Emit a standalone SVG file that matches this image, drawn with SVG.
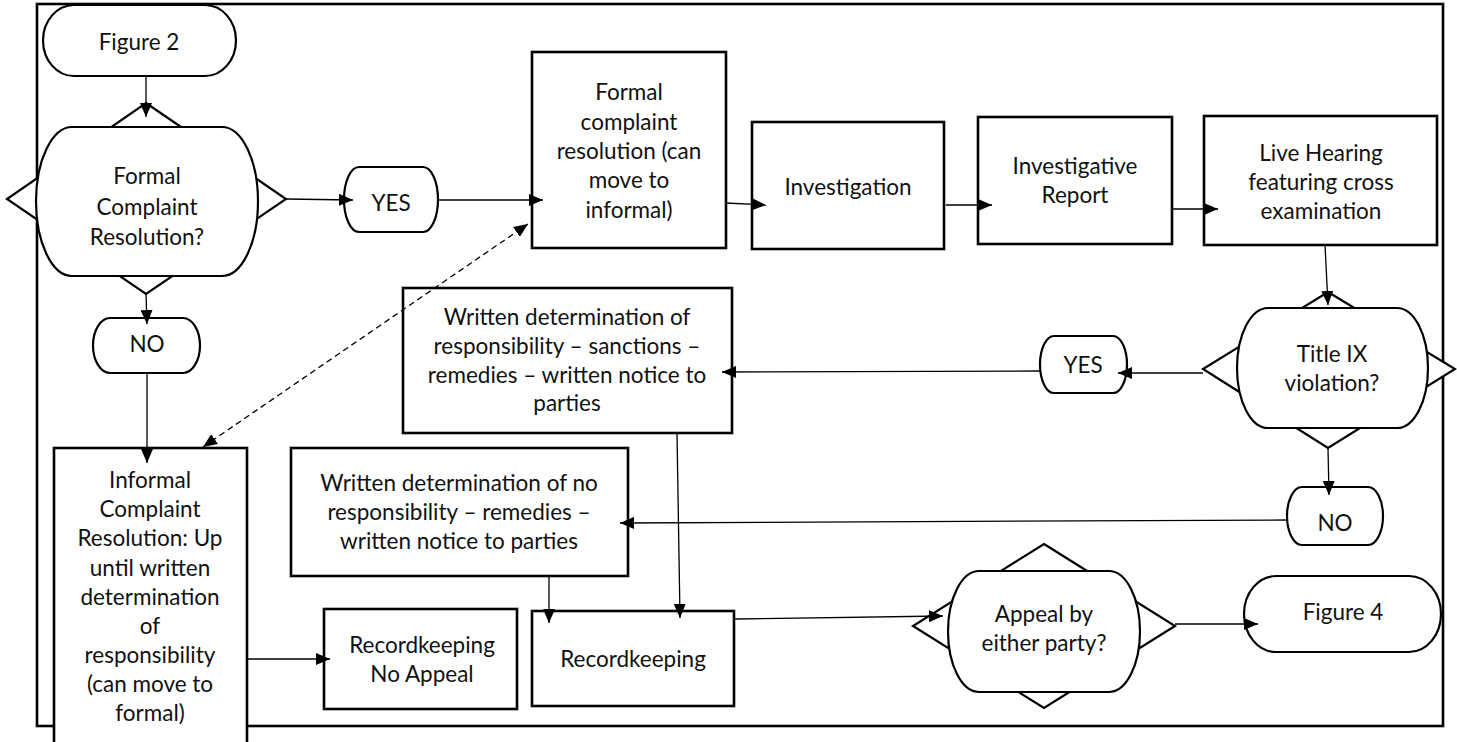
<svg xmlns="http://www.w3.org/2000/svg" width="1457" height="742" viewBox="0 0 1457 742">
  <defs>
    <style>
      .frame { fill: none; stroke: #000; stroke-width: 2.6; }
      .box { fill: #fff; stroke: #000; stroke-width: 2.6; }
      .dia { fill: #fff; stroke: #000; stroke-width: 2.2; stroke-linejoin: miter; }
      .term { fill: #fff; stroke: #000; stroke-width: 2.2; }
      .conn { fill: none; stroke: #000; stroke-width: 1.3; marker-end: url(#arrow); }
      .dash { fill: none; stroke: #000; stroke-width: 1.3; stroke-dasharray: 6 4; marker-start: url(#arrow); marker-end: url(#arrow); }
      text { font-family: Lato, "Liberation Sans", sans-serif; font-size: 22.5px; fill: #111; text-anchor: middle; }
    </style>
    <marker id="arrow" markerUnits="userSpaceOnUse" markerWidth="14" markerHeight="12" refX="14" refY="6" orient="auto-start-reverse">
      <path d="M0,0 L14,6 L0,12 z" fill="#000"/>
    </marker>
  </defs>

  <!-- page frame -->
  <rect class="frame" x="37" y="4" width="1406" height="722"/>

  <g id="figure2">
    <rect class="term" x="43" y="5" width="193" height="71" rx="31" ry="35.5"/>
    <text x="139" y="50">Figure 2</text>
  </g>

  <g id="decision-formal">
    <polygon class="dia" points="146,103 286,199 146,294 7,199"/>
    <rect class="term" x="36" y="127" width="222" height="149" rx="36" ry="74.5"/>
    <text x="147" y="184">Formal</text>
    <text x="147" y="215">Complaint</text>
    <text x="147" y="245">Resolution?</text>
  </g>

  <g id="yes-formal">
    <rect class="term" x="344" y="167" width="94" height="65" rx="15" ry="32.5"/>
    <text x="391" y="211">YES</text>
  </g>

  <g id="no-formal">
    <rect class="term" x="93" y="318" width="107" height="55" rx="17" ry="27.5"/>
    <text x="147" y="352">NO</text>
  </g>

  <g id="formal-resolution">
    <rect class="box" x="532" y="52" width="194" height="196"/>
    <text x="629" y="100">Formal</text>
    <text x="629" y="129.5">complaint</text>
    <text x="629" y="159">resolution (can</text>
    <text x="629" y="188">move to</text>
    <text x="629" y="217.5">informal)</text>
  </g>

  <g id="investigation">
    <rect class="box" x="752" y="122" width="192" height="127"/>
    <text x="848" y="195">Investigation</text>
  </g>

  <g id="investigative-report">
    <rect class="box" x="978" y="117" width="194" height="127"/>
    <text x="1075" y="174">Investigative</text>
    <text x="1075" y="203">Report</text>
  </g>

  <g id="live-hearing">
    <rect class="box" x="1204" y="116" width="233" height="129"/>
    <text x="1321" y="161">Live Hearing</text>
    <text x="1321" y="190">featuring cross</text>
    <text x="1321" y="219">examination</text>
  </g>

  <g id="decision-title-ix">
    <polygon class="dia" points="1328,292 1455,369 1328,448 1203,369"/>
    <rect class="term" x="1237" y="308" width="191" height="120" rx="31" ry="60"/>
    <text x="1332" y="362">Title IX</text>
    <text x="1332" y="391">violation?</text>
  </g>

  <g id="yes-violation">
    <rect class="term" x="1040" y="336" width="87" height="57" rx="14" ry="28.5"/>
    <text x="1083" y="373">YES</text>
  </g>

  <g id="no-violation">
    <rect class="term" x="1287" y="487" width="96" height="58" rx="15" ry="29"/>
    <text x="1335" y="531">NO</text>
  </g>

  <g id="written-responsibility">
    <rect class="box" x="403" y="288" width="329" height="145"/>
    <text x="567" y="325">Written determination of</text>
    <text x="567" y="354">responsibility – sanctions –</text>
    <text x="567" y="382.5">remedies – written notice to</text>
    <text x="567" y="411">parties</text>
  </g>

  <g id="written-no-responsibility">
    <rect class="box" x="291" y="448" width="337" height="128"/>
    <text x="459" y="491">Written determination of no</text>
    <text x="459" y="520">responsibility – remedies –</text>
    <text x="459" y="549">written notice to parties</text>
  </g>

  <g id="informal-resolution">
    <rect class="box" x="54" y="448" width="193" height="312"/>
    <text x="150" y="488">Informal</text>
    <text x="150" y="517">Complaint</text>
    <text x="150" y="546">Resolution: Up</text>
    <text x="150" y="575.5">until written</text>
    <text x="150" y="604.5">determination</text>
    <text x="150" y="633.5">of</text>
    <text x="150" y="662.5">responsibility</text>
    <text x="150" y="691.5">(can move to</text>
    <text x="150" y="720.5">formal)</text>
  </g>

  <g id="recordkeeping-no-appeal">
    <rect class="box" x="324" y="609" width="193" height="100"/>
    <text x="422" y="653">Recordkeeping</text>
    <text x="422" y="682">No Appeal</text>
  </g>

  <g id="recordkeeping">
    <rect class="box" x="532" y="611" width="202" height="95"/>
    <text x="633" y="667">Recordkeeping</text>
  </g>

  <g id="decision-appeal">
    <polygon class="dia" points="1044,544 1175,626 1044,708 913,626"/>
    <rect class="term" x="948" y="571" width="192" height="121" rx="31" ry="60.5"/>
    <text x="1044" y="622">Appeal by</text>
    <text x="1044" y="651">either party?</text>
  </g>

  <g id="figure4">
    <rect class="term" x="1244" y="576" width="197" height="76" rx="32" ry="38"/>
    <text x="1343" y="620">Figure 4</text>
  </g>

  <!-- connectors, drawn last so arrowheads sit over the shapes -->
  <g id="connectors">
    <path class="conn" d="M146,76 L146,117"/>
    <path class="conn" d="M286,199 L353,200"/>
    <path class="conn" d="M438,200 L543,200"/>
    <path class="conn" d="M726,203 L766,205"/>
    <path class="conn" d="M946,205 L992,205"/>
    <path class="conn" d="M1172,209 L1218,209"/>
    <path class="conn" d="M1325,245 L1328,305"/>
    <path class="conn" d="M1203,373 L1118,373"/>
    <path class="conn" d="M1040,371 L722,372"/>
    <path class="conn" d="M1328,448 L1329,495"/>
    <path class="conn" d="M1287,520 L620,523"/>
    <path class="conn" d="M677,433 L680,618"/>
    <path class="conn" d="M549,576 L549,623"/>
    <path class="conn" d="M146,294 L147,324"/>
    <path class="conn" d="M147,373 L147,463"/>
    <path class="conn" d="M248,659 L330,659"/>
    <path class="conn" d="M734,619 L943,616"/>
    <path class="conn" d="M1175,624 L1258,624"/>
    <path class="dash" d="M203,447 L528,224"/>
  </g>
</svg>
